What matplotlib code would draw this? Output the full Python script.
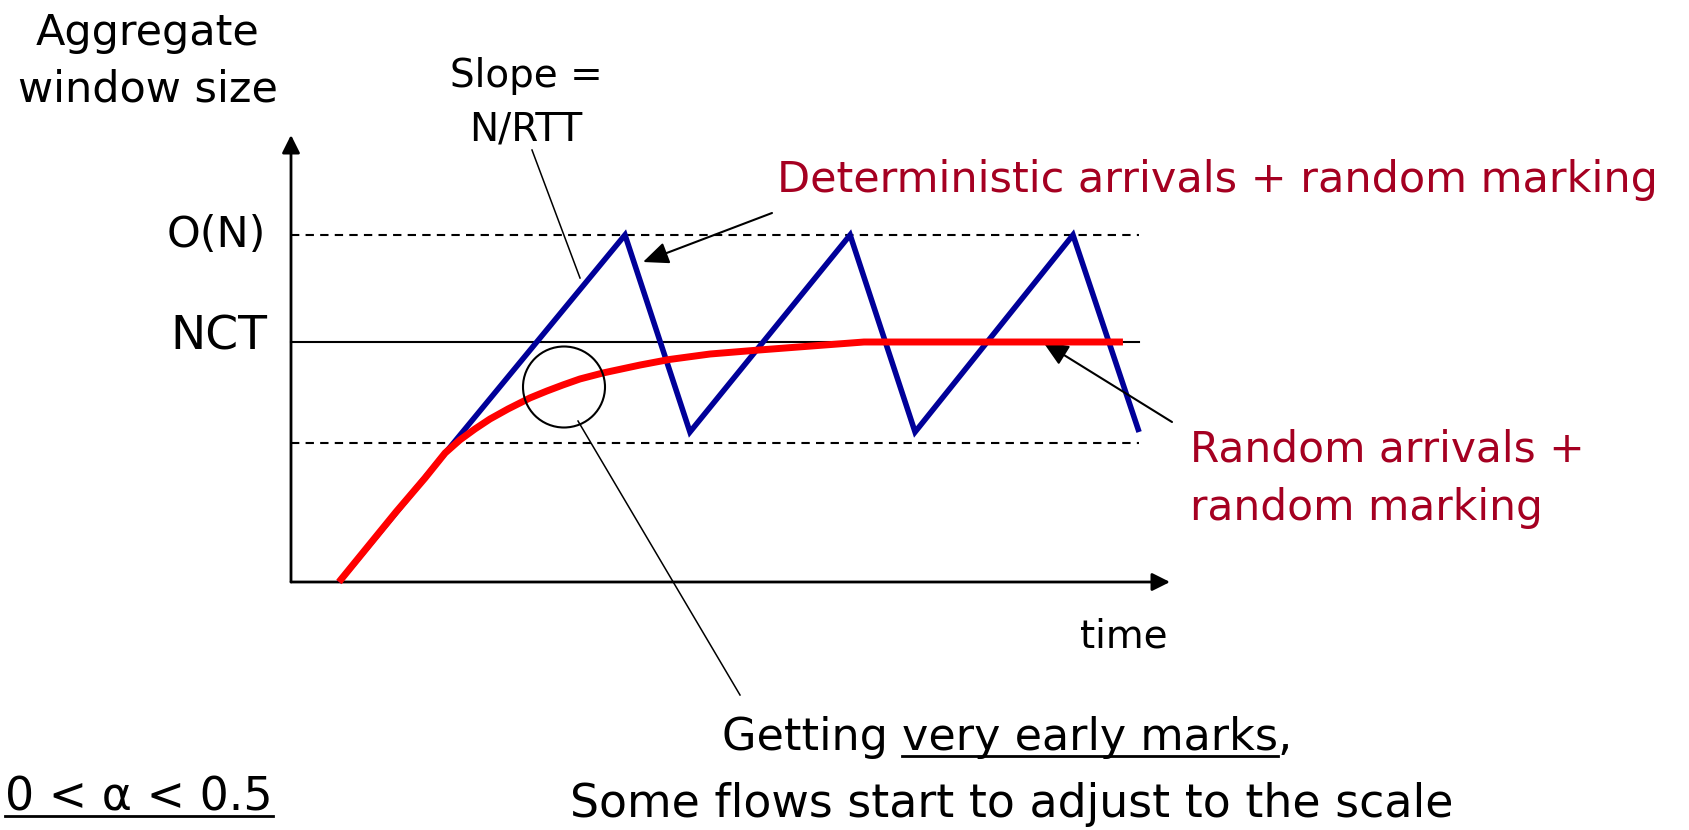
import matplotlib.pyplot as plt
from matplotlib.patches import Ellipse

# window size levels (in units of NCT)
level_on = 1.446
level_nct = 1.0
level_low = 0.579

# deterministic arrivals + random marking: sawtooth (time, window)
saw_t = [0.214, 1.491, 1.781, 2.496, 2.786, 3.491, 3.786]
saw_w = [0.0, 1.446, 0.625, 1.446, 0.625, 1.446, 0.625]

# random arrivals + random marking: smooth approach to NCT
rnd_t = [0.214, 0.469, 0.598, 0.688, 0.754, 0.821, 0.888, 0.969, 1.067, 1.143,
         1.214, 1.290, 1.393, 1.558, 1.688, 1.871, 2.094, 2.558, 3.714]
rnd_w = [0.0, 0.292, 0.433, 0.5375, 0.592, 0.6375, 0.679, 0.721, 0.767, 0.796,
         0.821, 0.846, 0.871, 0.904, 0.927, 0.950, 0.967, 1.0, 1.0]

W, H = 1689, 830
X0, Y0 = 291, 582   # pixel position of the origin
SX, SY = 224, 240   # pixels per data unit

BLUE = '#000099'
RED = '#FF0000'
TXT_RED = '#A50021'
FS = 31

plt.rcParams['font.family'] = ['DejaVu Sans']


def px(x, y):
    # full-image pixel -> data coords
    return (x - X0) / SX, (Y0 - y) / SY


fig = plt.figure(figsize=(W / 100, H / 100), dpi=100)
ax = fig.add_axes([0, 0, 1, 1])
ax.set_xlim(-X0 / SX, (W - X0) / SX)
ax.set_ylim(-(H - Y0) / SY, Y0 / SY)
ax.axis('off')

# axes with arrows
head = dict(arrowstyle='-|>,head_length=0.4,head_width=0.2', mutation_scale=27,
            lw=2, color='k', shrinkA=0, shrinkB=0)
ax.annotate('', xy=px(1170, 582), xytext=(0, 0), arrowprops=head)
ax.annotate('', xy=px(291, 135), xytext=(0, 0), arrowprops=head)

# reference levels
t_end = saw_t[-1]
ax.plot([0, t_end], [level_on] * 2, color='k', lw=1.5, ls=(0, (4, 3)))
ax.plot([0, t_end], [level_low] * 2, color='k', lw=1.5, ls=(0, (4, 3)))
ax.plot([0, t_end], [level_nct] * 2, color='k', lw=1.5)

# curves
ax.plot(saw_t, saw_w, color=BLUE, lw=4, solid_joinstyle='miter', solid_capstyle='butt', zorder=3)
ax.plot(rnd_t, rnd_w, color=RED, lw=5, solid_capstyle='butt', solid_joinstyle='round', zorder=4)

# circle + leader lines
ax.add_patch(Ellipse(px(564, 387), 82 / SX, 81 / SY, fill=False, lw=1.5, zorder=5))
for a, b in [((578, 421), (740, 695)), ((532, 150), (580, 278))]:
    (x1, y1), (x2, y2) = px(*a), px(*b)
    ax.plot([x1, x2], [y1, y2], color='k', lw=1.1)

small = dict(arrowstyle='-|>,head_length=0.65,head_width=0.28', mutation_scale=24,
             lw=1.5, color='k', shrinkA=0, shrinkB=0)
ax.annotate('', xy=px(643, 262), xytext=px(772, 213), arrowprops=small)
ax.annotate('', xy=px(1043, 342), xytext=px(1172, 422), arrowprops=small)

# labels
ax.text(*px(148, 45), 'Aggregate', fontsize=FS, ha='center', va='baseline')
ax.text(*px(148, 102), 'window size', fontsize=FS, ha='center', va='baseline')
ax.text(*px(526, 87), 'Slope =', fontsize=FS - 3, ha='center', va='baseline')
ax.text(*px(526, 140), 'N/RTT', fontsize=FS - 3, ha='center', va='baseline')
ax.text(*px(266, 247), 'O(N)', fontsize=FS, ha='right', va='baseline')
ax.text(*px(267, 349), 'NCT', fontsize=FS + 3, ha='right', va='baseline')
ax.text(*px(1080, 648), 'time', fontsize=FS - 3, ha='left', va='baseline')

ax.text(*px(777, 192), 'Deterministic arrivals + random marking', fontsize=FS,
        color=TXT_RED, ha='left', va='baseline')
ax.text(*px(1190, 462), 'Random arrivals +', fontsize=FS - 0.5, color=TXT_RED, ha='left', va='baseline')
ax.text(*px(1190, 520), 'random marking', fontsize=FS - 0.5, color=TXT_RED, ha='left', va='baseline')

line1 = ax.text(*px(1007, 750), 'Getting very early marks,', fontsize=FS + 1,
                ha='center', va='baseline')
ax.text(*px(1012, 817), 'Some flows start to adjust to the scale', fontsize=FS + 2,
        ha='center', va='baseline')
t_alpha = ax.text(*px(5, 810), '0 < \u03b1 < 0.5', fontsize=FS + 2, ha='left', va='baseline')

# underlines (need text extents)
fig.canvas.draw()
rend = fig.canvas.get_renderer()
inv = ax.transData.inverted()


def width_of(s, fs):
    t = ax.text(0, 0, s, fontsize=fs)
    w = t.get_window_extent(rend).width
    t.remove()
    return w


bb = line1.get_window_extent(rend)
x_end = bb.x0 + width_of('Getting very early marks', FS + 1)
x_start = x_end - width_of('very early marks', FS + 1)
bb_a = t_alpha.get_window_extent(rend)
for xa, xb, y_line in [(x_start, x_end, 756), (bb_a.x0, bb_a.x1, 816)]:
    xa = inv.transform((xa, 0))[0]
    xb = inv.transform((xb, 0))[0]
    ax.plot([xa, xb], [px(0, y_line)[1]] * 2, color='k', lw=2)

fig.savefig('out.png', dpi=100)
